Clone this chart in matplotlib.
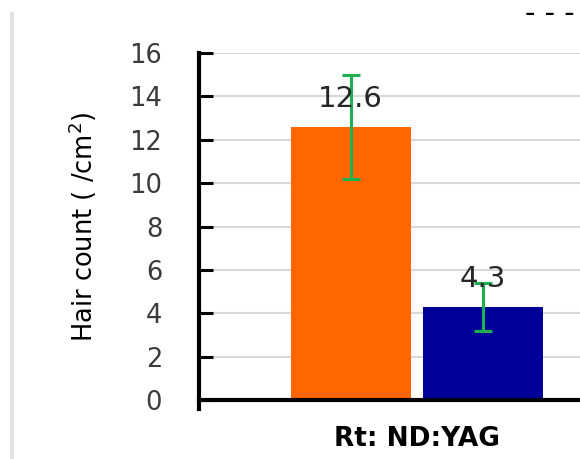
import matplotlib
matplotlib.use("Agg")
import matplotlib.pyplot as plt
from matplotlib.lines import Line2D

# data
categories = ['Rt: ND:YAG']
series_names = ['Group A', 'Group B']
values = [12.6, 4.3]
errors = [2.4, 1.1]
bar_colors = ['#FF6600', '#000099']
y_ticks = [0, 2, 4, 6, 8, 10, 12, 14, 16]

plt.rcParams['font.family'] = ['DejaVu Sans']

fig = plt.figure(figsize=(5.8, 4.59), dpi=100)
ax = fig.add_axes([199 / 580, 1 - 400 / 459, 381 / 580, 347 / 459])

width = 0.4
offsets = [-0.2217, 0.22]
for i, (name, v, e, c) in enumerate(zip(series_names, values, errors, bar_colors)):
    x = offsets[i]
    ax.bar(x, v, width=width, color=c, label=name, zorder=2)
    ax.errorbar(x, v, yerr=e, fmt='none', ecolor='#1DB050', elinewidth=2.2,
                capsize=6.5, capthick=2.2, zorder=3)
    ax.annotate(f'{v:.1f}', (x, v), xytext=(0, 14.4), textcoords='offset points',
                ha='center', va='baseline', fontsize=21, color='#262626', zorder=4)

ax.set_xlim(-0.727, 0.543)
ax.set_ylim(0, 16)
ax.set_yticks(y_ticks)
ax.set_xticks([0])
ax.set_xticklabels(categories, fontsize=19, fontweight='bold', color='black')
ax.tick_params(axis='x', length=0, pad=19)
ax.tick_params(axis='y', direction='in', length=10, width=2.2, pad=26.5,
               labelsize=18.5, labelcolor='#3a3a3a', color='black')

ax.grid(axis='y', color='#d9d9d9', linewidth=1.5, zorder=0)
ax.set_axisbelow(True)

for side in ['top', 'right']:
    ax.spines[side].set_visible(False)
ax.spines['left'].set_linewidth(3)
ax.spines['bottom'].set_linewidth(3)
ax.spines['left'].set_bounds(-0.42, 16)

ax.set_ylabel('Hair count ( /cm$^2$)', fontsize=18.5, color='black')
ax.yaxis.set_label_coords(-0.262, 0.5)

# thin grey frame edge on the left and cut-off text at top right
fig.add_artist(Line2D([12 / 580, 12 / 580], [0, 1 - 14 / 459],
                      transform=fig.transFigure, color='#e3e3e3', linewidth=3))
fig.text(525 / 580, 1 - 22 / 459, '- - -', fontsize=21,
         ha='left', va='baseline', color='black')

fig.savefig('out.png', dpi=100)
